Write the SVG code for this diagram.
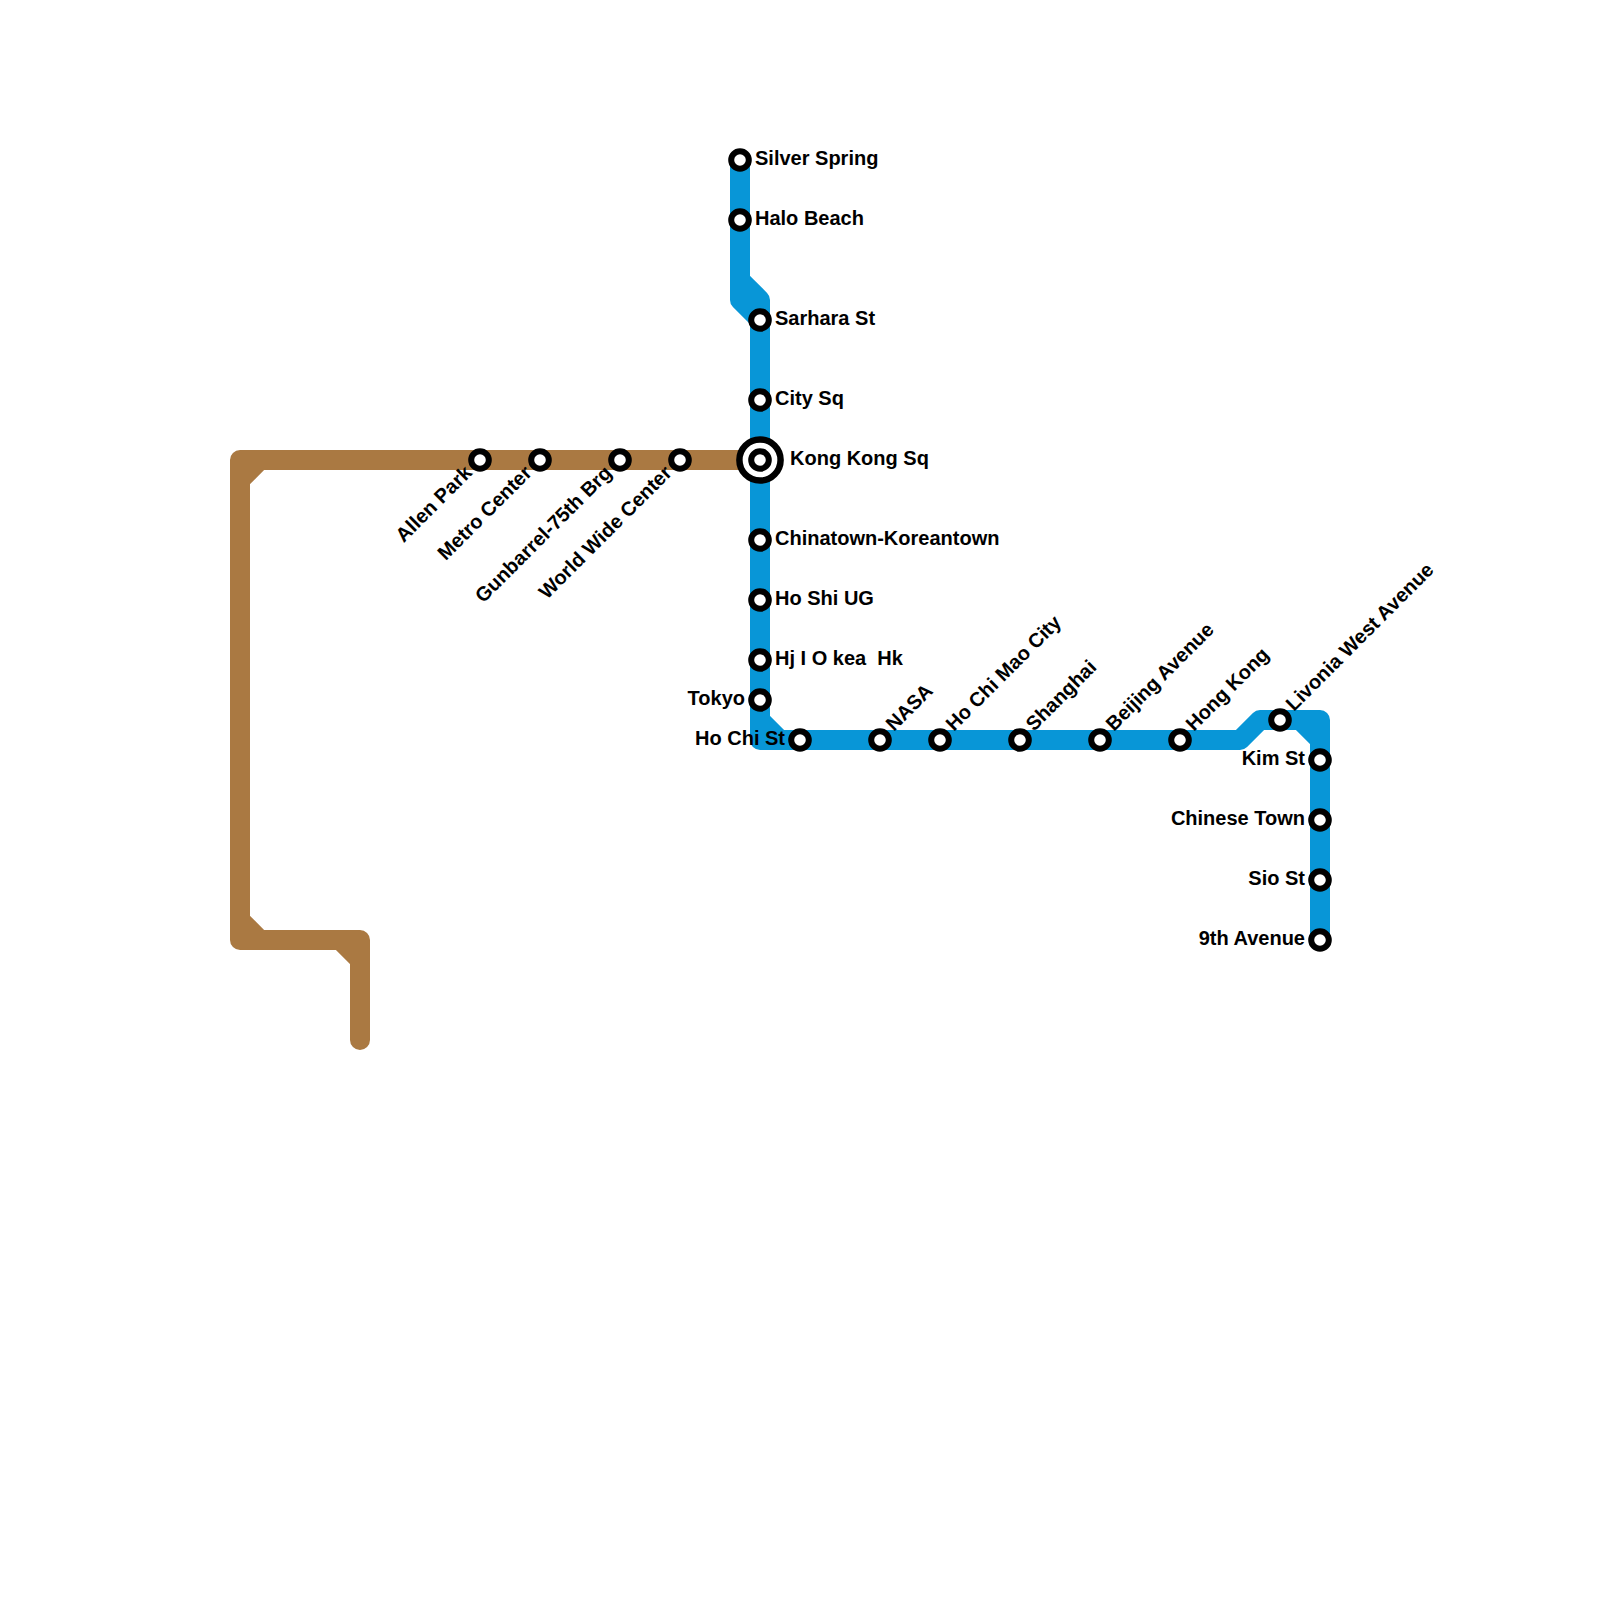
<svg xmlns="http://www.w3.org/2000/svg" width="1600" height="1600" viewBox="0 0 1600 1600">
<style>
.l{fill:none;stroke-width:20;stroke-linecap:round;stroke-linejoin:round}
.blue{stroke:#0896d7}
.brown{stroke:#aa7942}
.s{fill:#fff;stroke:#000;stroke-width:6}
.i{fill:#fff;stroke:#000;stroke-width:6.5}
text{font-family:"Liberation Sans",Arial,sans-serif;font-size:20px;font-weight:700;fill:#000}
.e{text-anchor:end}
</style>
<rect width="1600" height="1600" fill="#fff"/>
<g id="connectors">
<path class="l brown" d="M760 460H240V940H360V1040M240 480L260 460M240 920L260 940M340 940L360 960"/>
<path class="l blue" d="M740 160V300L760 320M740 280L760 300V740H1240L1260 720H1320V940M760 720L780 740M1300 720L1320 740"/>
</g>
<g id="silver-spring"><circle class="s" cx="740" cy="160" r="8.8"/><text x="755" y="165">Silver Spring</text></g>
<g id="halo-beach"><circle class="s" cx="740" cy="220" r="8.8"/><text x="755" y="225">Halo Beach</text></g>
<g id="sarhara-st"><circle class="s" cx="760" cy="320" r="8.8"/><text x="775" y="325">Sarhara St</text></g>
<g id="city-sq"><circle class="s" cx="760" cy="400" r="8.8"/><text x="775" y="405">City Sq</text></g>
<g id="kong-kong-sq"><circle class="i" cx="760" cy="460" r="20.6"/><circle class="s" cx="760" cy="460" r="8.8"/><text x="790" y="465">Kong Kong Sq</text></g>
<g id="chinatown-koreantown"><circle class="s" cx="760" cy="540" r="8.8"/><text x="775" y="545">Chinatown-Koreantown</text></g>
<g id="ho-shi-ug"><circle class="s" cx="760" cy="600" r="8.8"/><text x="775" y="605">Ho Shi UG</text></g>
<g id="hj-i-o-kea-hk"><circle class="s" cx="760" cy="660" r="8.8"/><text x="775" y="665" xml:space="preserve">Hj I O kea  Hk</text></g>
<g id="tokyo"><circle class="s" cx="760" cy="700" r="8.8"/><text class="e" x="745" y="705">Tokyo</text></g>
<g id="ho-chi-st"><circle class="s" cx="800" cy="740" r="8.8"/><text class="e" x="785" y="745">Ho Chi St</text></g>
<g id="nasa"><circle class="s" cx="880" cy="740" r="8.8"/><text transform="translate(894 732) rotate(-45)">NASA</text></g>
<g id="ho-chi-mao-city"><circle class="s" cx="940" cy="740" r="8.8"/><text transform="translate(954 732) rotate(-45)">Ho Chi Mao City</text></g>
<g id="shanghai"><circle class="s" cx="1020" cy="740" r="8.8"/><text transform="translate(1034 732) rotate(-45)">Shanghai</text></g>
<g id="beijing-avenue"><circle class="s" cx="1100" cy="740" r="8.8"/><text transform="translate(1114 732) rotate(-45)">Beijing Avenue</text></g>
<g id="hong-kong"><circle class="s" cx="1180" cy="740" r="8.8"/><text transform="translate(1194 732) rotate(-45)">Hong Kong</text></g>
<g id="livonia-west-avenue"><circle class="s" cx="1280" cy="720" r="8.8"/><text transform="translate(1294 712) rotate(-45)">Livonia West Avenue</text></g>
<g id="kim-st"><circle class="s" cx="1320" cy="760" r="8.8"/><text class="e" x="1305" y="765">Kim St</text></g>
<g id="chinese-town"><circle class="s" cx="1320" cy="820" r="8.8"/><text class="e" x="1305" y="825">Chinese Town</text></g>
<g id="sio-st"><circle class="s" cx="1320" cy="880" r="8.8"/><text class="e" x="1305" y="885">Sio St</text></g>
<g id="ninth-avenue"><circle class="s" cx="1320" cy="940" r="8.8"/><text class="e" x="1305" y="945">9th Avenue</text></g>
<g id="allen-park"><circle class="s" cx="480" cy="460" r="8.8"/><text class="e" transform="translate(473 474) rotate(-45)">Allen Park</text></g>
<g id="metro-center"><circle class="s" cx="540" cy="460" r="8.8"/><text class="e" transform="translate(533 474) rotate(-45)">Metro Center</text></g>
<g id="gunbarrel-75th-brg"><circle class="s" cx="620" cy="460" r="8.8"/><text class="e" transform="translate(613 474) rotate(-45)">Gunbarrel-75th Brg</text></g>
<g id="world-wide-center"><circle class="s" cx="680" cy="460" r="8.8"/><text class="e" transform="translate(673 474) rotate(-45)">World Wide Center</text></g>
</svg>
